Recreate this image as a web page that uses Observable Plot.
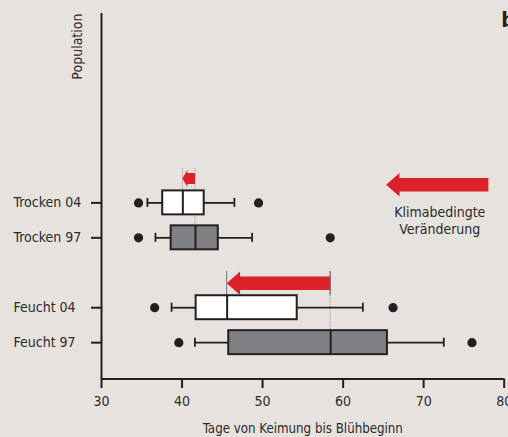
<!DOCTYPE html>
<html><head><meta charset="utf-8">
<script src="https://cdn.jsdelivr.net/npm/d3@7"></script>
<script src="https://cdn.jsdelivr.net/npm/@observablehq/plot@0.6"></script>
<style>
html,body{margin:0;padding:0;background:#e6e3df;}
#chart svg{display:block;}
</style></head><body><div id="chart"></div>
<script>
// ---- data ----
const populations = ["Trocken 04", "Trocken 97", "Feucht 04", "Feucht 97"];
const positions = [5, 4, 2, 1];
const years = ["04", "97", "04", "97"];
const lowOutliers = [34.6, 34.6, 36.6, 39.6];
const whiskerLow = [35.7, 36.7, 38.7, 41.6];
const q1 = [37.6, 38.65, 41.75, 45.8];
const medians = [40.1, 41.67, 45.6, 58.45];
const q3 = [42.75, 44.5, 54.3, 65.5];
const whiskerHigh = [46.5, 48.7, 62.45, 72.5];
const highOutliers = [49.5, 58.4, 66.2, 76.0];
const xTicks = [30, 40, 50, 60, 70, 80];
const xLabel = "Tage von Keimung bis Blühbeginn";
const yLabel = "Population";
const panelLabel = "b";
const shifts = [{from: "Trocken 97", to: "Trocken 04"}, {from: "Feucht 97", to: "Feucht 04"}];
const legendArrow = {from: 78.1, to: 65.4};
const legendText = "Klimabedingte\nVeränderung";
const legendX = 72.0;

// ---- build ----
const rows = populations.map((p, i) => ({
  population: p, pos: positions[i], year: years[i],
  lo: lowOutliers[i], wl: whiskerLow[i], q1: q1[i], med: medians[i],
  q3: q3[i], wh: whiskerHigh[i], hi: highOutliers[i]
}));
const outliers = rows.flatMap(r => [{x: r.lo, pos: r.pos}, {x: r.hi, pos: r.pos}]);

const xDomain = [30, 80];
const yDomain = [-0.04, 10.42];
const INK = "#231f20";
const TXT = "#2b2a2a";
const RED = "#dd2129";
const GRAY = "#808184";
const boxH = 0.343, capH = 0.129;
const FONT = "'DejaVu Sans Condensed', 'Liberation Sans Narrow', sans-serif";

function arrowPath(xt, xe, yc, hl, hh, sh) {
  return `M${xt},${yc}L${xt+hl},${yc-hh/2}L${xt+hl},${yc-sh/2}L${xe},${yc-sh/2}L${xe},${yc+sh/2}L${xt+hl},${yc+sh/2}L${xt+hl},${yc+hh/2}Z`;
}
function arrowStyle(len) {
  return len < 30 ? {hl: Math.min(5, len * 0.4), hh: 17, sh: 11} : {hl: 13.4, hh: 23.4, sh: 13.4};
}
const byName = Object.fromEntries(rows.map(r => [r.population, r]));

// guides (drawn under the boxes)
function guides(index, {x, y}) {
  const g = d3.create("svg:g");
  for (const s of shifts) {
    const a = byName[s.from], b = byName[s.to];
    const xa = x(a.med), xb = x(b.med);
    const len = Math.abs(xa - xb);
    const st = arrowStyle(len);
    const yc = y(b.pos) - 24;
    const top = yc - st.hh / 2 - (len < 30 ? 2 : 0.5);
    const boxPx = y(0) - y(boxH);
    g.append("line").attr("x1", xb).attr("x2", xb).attr("y1", top).attr("y2", y(b.pos) - boxPx)
      .attr("stroke", len < 30 ? "#8a8a8a" : "#7a7a7a").attr("stroke-width", 1)
      .attr("stroke-dasharray", len < 30 ? "1,1.2" : null);
    if (len < 30) {
      g.append("line").attr("x1", xa).attr("x2", xa).attr("y1", top).attr("y2", y(a.pos) - boxPx)
        .attr("stroke", "#8a8a8a").attr("stroke-width", 1).attr("stroke-dasharray", "1,1.2");
    } else {
      const mid = yc + st.hh / 2;
      g.append("line").attr("x1", xa).attr("x2", xa).attr("y1", top).attr("y2", mid)
        .attr("stroke", "#444").attr("stroke-width", 1);
      g.append("line").attr("x1", xa).attr("x2", xa).attr("y1", mid).attr("y2", y(a.pos) - boxPx)
        .attr("stroke", "#8a8a8a").attr("stroke-width", 1).attr("stroke-dasharray", "1,1.2");
    }
  }
  return g.node();
}
// arrows (drawn on top)
function arrows(index, {x, y}) {
  const g = d3.create("svg:g");
  for (const s of shifts) {
    const a = byName[s.from], b = byName[s.to];
    const xa = x(a.med), xb = x(b.med);
    const st = arrowStyle(Math.abs(xa - xb));
    const yc = y(b.pos) - 24;
    g.append("path").attr("d", arrowPath(xb, xa, yc, st.hl, st.hh, st.sh)).attr("fill", RED);
  }
  const t = byName["Trocken 04"];
  const xt = x(legendArrow.to), xe = x(legendArrow.from);
  const st = arrowStyle(xe - xt);
  g.append("path").attr("d", arrowPath(xt, xe, y(t.pos) - 17.7, st.hl, st.hh, st.sh)).attr("fill", RED);
  return g.node();
}

const chart = Plot.plot({
  width: 508,
  height: 437,
  marginLeft: 101,
  marginRight: 4.3,
  marginTop: 13,
  marginBottom: 58.5,
  style: {background: "#e6e3df", color: INK, fontFamily: FONT, overflow: "visible"},
  x: {domain: xDomain},
  y: {domain: yDomain},
  marks: [
    guides,
    Plot.ruleY(rows, {y: "pos", x1: "wl", x2: "q1", stroke: INK, strokeWidth: 1.8}),
    Plot.ruleY(rows, {y: "pos", x1: "q3", x2: "wh", stroke: INK, strokeWidth: 1.8}),
    Plot.ruleX(rows, {x: "wl", y1: d => d.pos - capH, y2: d => d.pos + capH, stroke: INK, strokeWidth: 1.8}),
    Plot.ruleX(rows, {x: "wh", y1: d => d.pos - capH, y2: d => d.pos + capH, stroke: INK, strokeWidth: 1.8}),
    Plot.rect(rows, {x1: "q1", x2: "q3", y1: d => d.pos - boxH, y2: d => d.pos + boxH,
      fill: d => d.year === "04" ? "#ffffff" : GRAY, stroke: INK, strokeWidth: 2}),
    Plot.ruleX(rows, {x: "med", y1: d => d.pos - boxH, y2: d => d.pos + boxH, stroke: INK, strokeWidth: 2}),
    Plot.dot(outliers, {x: "x", y: "pos", r: 4.6, fill: INK, stroke: null}),
    arrows,
    Plot.ruleX([xDomain[0]], {stroke: INK, strokeWidth: 2}),
    Plot.ruleY([yDomain[0]], {stroke: INK, strokeWidth: 2, x1: xDomain[0], x2: xDomain[1]}),
    Plot.axisX({ticks: xTicks, tickSize: 9.5, tickPadding: 8, fontSize: 14, label: null, strokeWidth: 2, stroke: INK, fill: TXT}),
    Plot.axisY({ticks: positions, tickSize: 10, tickFormat: () => "", label: null, strokeWidth: 2, stroke: INK}),
    Plot.text(rows, {y: "pos", text: "population", frameAnchor: "left", dx: -88, textAnchor: "start", fontSize: 14, fill: TXT}),
    Plot.text([xLabel], {frameAnchor: "bottom", dy: 53.5, fontSize: 13.2, fill: TXT}),
    Plot.text([yLabel], {frameAnchor: "top-left", rotate: -90, textAnchor: "end", lineAnchor: "middle", dx: -24, fontSize: 14, fill: TXT}),
    Plot.text([panelLabel], {frameAnchor: "top-right", textAnchor: "start", lineAnchor: "bottom", dx: -3, dy: 13.7, fontSize: 21, fontWeight: "bold", fill: INK}),
    Plot.text([legendText], {x: legendX, y: byName["Trocken 04"].pos, lineAnchor: "top", dy: 2.3, lineHeight: 1.2, fontSize: 14, fill: TXT})
  ]
});
document.getElementById("chart").appendChild(chart);
</script>
</body></html>
